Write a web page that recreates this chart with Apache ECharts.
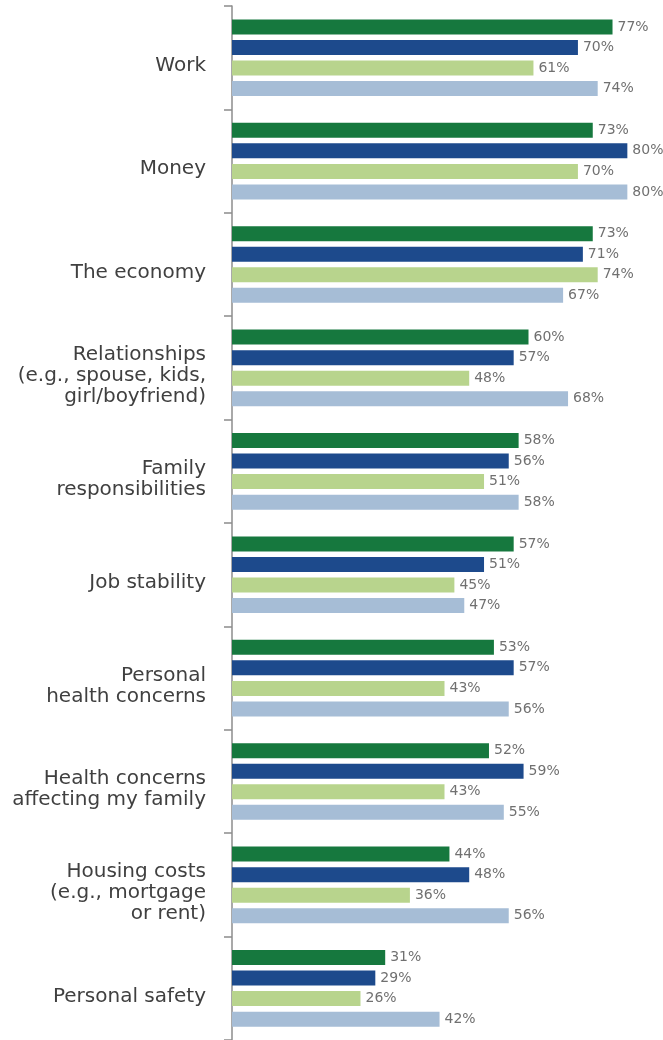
<!DOCTYPE html>
<html>
<head>
<meta charset="utf-8">
<script src="https://cdn.jsdelivr.net/npm/echarts@6/dist/echarts.min.js"></script>
<style>html,body{margin:0;padding:0;background:#fff}#c{width:663px;height:1040px}</style>
</head>
<body>
<div id="c"></div>
<script>
var categories = [
  "Work",
  "Money",
  "The economy",
  "Relationships\n(e.g., spouse, kids,\ngirl/boyfriend)",
  "Family\nresponsibilities",
  "Job stability",
  "Personal\nhealth concerns",
  "Health concerns\naffecting my family",
  "Housing costs\n(e.g., mortgage\nor rent)",
  "Personal safety"
];
var seriesNames = ["Series 1", "Series 2", "Series 3", "Series 4"];
var s1 = [77, 73, 73, 60, 58, 57, 53, 52, 44, 31];
var s2 = [70, 80, 71, 57, 56, 51, 57, 59, 48, 29];
var s3 = [61, 70, 74, 48, 51, 45, 43, 43, 36, 26];
var s4 = [74, 80, 67, 68, 58, 47, 56, 55, 56, 42];
var colors = ["#16783e", "#1d4a8c", "#b8d48d", "#a6bdd6"];

var chart = echarts.init(document.getElementById('c'), null, {renderer: 'canvas'});
var data = [s1, s2, s3, s4];
var series = data.map(function (d, i) {
  return {
    name: seriesNames[i],
    type: 'bar',
    data: d,
    barWidth: 15,
    barGap: '37%',
    itemStyle: {color: colors[i]},
    label: {
      show: true,
      position: 'right',
      distance: 5,
      formatter: '{c}%',
      color: '#707070',
      fontSize: 14,
      fontFamily: 'DejaVu Sans'
    },
    animation: false
  };
});
var labelFont = {color: '#404040', fontSize: 20, lineHeight: 21, fontFamily: 'DejaVu Sans', align: 'right'};
chart.setOption({
  animation: false,
  grid: {left: 232, top: 6, width: 425, height: 1036},
  xAxis: {
    type: 'value', min: 0, max: 86, show: false
  },
  yAxis: {
    type: 'category',
    data: categories,
    inverse: true,
    axisLine: {show: true, lineStyle: {color: '#8c8c8c', width: 1.5}},
    axisTick: {show: true, length: 8, lineStyle: {color: '#8c8c8c', width: 1.5}},
    axisLabel: {
      margin: 26,
      color: '#404040',
      fontSize: 20,
      lineHeight: 21,
      fontFamily: 'DejaVu Sans',
      align: 'right',
      formatter: function (v) {
        return '{s| }\n' + v.split('\n').map(function (l) {
          return '{a|' + l + '}';
        }).join('\n');
      },
      rich: {
        s: {fontSize: 2, lineHeight: 16, align: 'right'},
        a: Object.assign({}, labelFont)
      }
    },
    splitLine: {show: false}
  },
  series: series
});
</script>
</body>
</html>
